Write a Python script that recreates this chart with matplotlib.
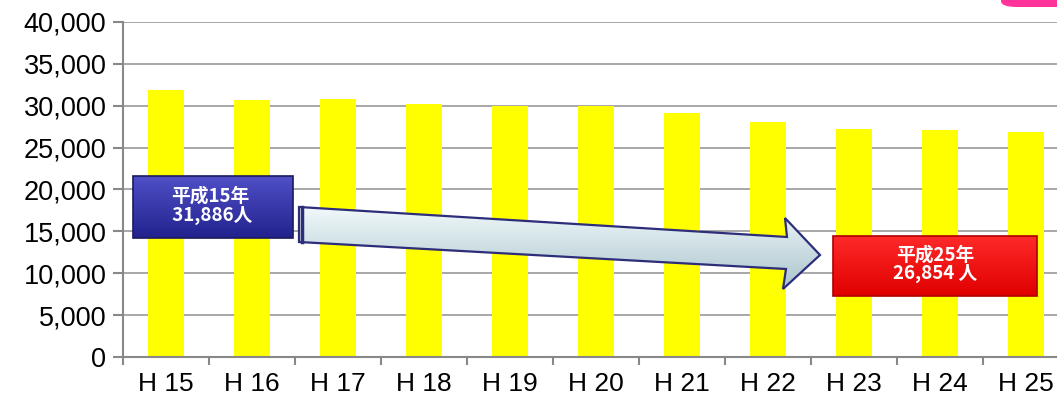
import matplotlib
matplotlib.use("Agg")
import matplotlib.pyplot as plt
import numpy as np
from matplotlib.patches import Polygon, Rectangle, FancyBboxPatch
from matplotlib.ticker import FuncFormatter, MultipleLocator

categories = ["H 15", "H 16", "H 17", "H 18", "H 19", "H 20", "H 21", "H 22", "H 23", "H 24", "H 25"]
values = [31886, 30700, 30750, 30250, 30000, 30000, 29150, 28100, 27250, 27150, 26854]
start_label = "平成15年\n 31,886人"
end_label = "平成25年\n26,854 人"

plt.rcParams['font.family'] = ['Liberation Sans', 'DejaVu Sans']

W, H = 1057, 398
fig = plt.figure(figsize=(W / 100, H / 100), dpi=100)
ax_left, ax_bottom = 123 / W, (H - 357) / H
ax_w, ax_h = 946 / W, 335 / H
ax = fig.add_axes([ax_left, ax_bottom, ax_w, ax_h])

x = np.arange(len(categories))
ax.bar(x, values, width=0.41, color="#ffff00", zorder=2)

ax.set_xlim(-0.5, len(categories) - 0.5)
ax.set_ylim(0, 40000)
ax.yaxis.set_major_locator(MultipleLocator(5000))
ax.yaxis.set_major_formatter(FuncFormatter(lambda v, p: f"{int(v):,}"))
ax.set_xticks(x)
ax.set_xticklabels(categories)
ax.set_xticks(np.arange(-0.5, len(categories), 1), minor=True)
ax.tick_params(axis="x", which="major", length=0, labelsize=19, pad=11)
ax.tick_params(axis="x", which="minor", length=6, width=1.5, color="#888888")
ax.tick_params(axis="y", length=7, width=1.5, color="#888888", labelsize=19.5, pad=5)
ax.grid(axis="y", color="#a0a0a0", linewidth=1.3, zorder=0)
ax.set_axisbelow(True)
for s in ["top", "right"]:
    ax.spines[s].set_visible(False)
for s in ["left", "bottom"]:
    ax.spines[s].set_color("#888888")
    ax.spines[s].set_linewidth(1.5)


def px2data(px, py):
    cx = (px - 123) / 86 - 0.5
    cy = (357 - py) / 335 * 40000
    return cx, cy


def gradient_fill(patch, c_top, c_bot, extent, z):
    ax.add_patch(patch)
    n = 64
    t = np.linspace(0, 1, n)[:, None]
    ct = np.array(matplotlib.colors.to_rgb(c_top))
    cb = np.array(matplotlib.colors.to_rgb(c_bot))
    img = (ct[None, None, :] * (1 - t[..., None]) + cb[None, None, :] * t[..., None])
    img = np.repeat(img, 2, axis=1)
    im = ax.imshow(img, extent=extent, aspect="auto", origin="upper", zorder=z,
                   interpolation="bilinear")
    im.set_clip_path(patch)


# Arrow
arrow_px = [(299, 207), (787, 237), (785, 218), (820, 255), (783, 289), (786, 269), (299, 242)]
arrow_pts = [px2data(*p) for p in arrow_px]
arr = Polygon(arrow_pts, closed=True, facecolor="none", edgecolor="none", zorder=5)
x0, y0 = px2data(299, 205)
x1, y1 = px2data(822, 290)
gradient_fill(arr, "#f4fafc", "#a8c4cc", [x0, x1, y1, y0], 5)
ax.add_patch(Polygon(arrow_pts, closed=True, facecolor="none", edgecolor="#2d2d7a",
                     linewidth=1.6, zorder=6))
tx0, ty0 = px2data(302, 207)
tx1, ty1 = px2data(302, 242)
ax.plot([tx0, tx1], [ty0, ty1], color="#2d2d7a", lw=2.5, zorder=6)

# Blue box
bx0, by0 = px2data(133, 238)
bx1, by1 = px2data(293, 176)
blue = Rectangle((bx0, by0), bx1 - bx0, by1 - by0, facecolor="none", edgecolor="none", zorder=7)
gradient_fill(blue, "#5050c8", "#22228e", [bx0, bx1, by0, by1], 7)
ax.add_patch(Rectangle((bx0, by0), bx1 - bx0, by1 - by0, facecolor="none",
                       edgecolor="#1a1a5e", linewidth=1.2, zorder=8))
cx, cy = px2data(210, 206)
ax.text(cx, cy, start_label, ha="center", va="center", color="white", fontsize=13.5,
        fontweight="bold", family=["Noto Sans CJK JP", "DejaVu Sans"], linespacing=1.0, zorder=9)

# Red box
rx0, ry0 = px2data(833, 296)
rx1, ry1 = px2data(1037, 236)
red = Rectangle((rx0, ry0), rx1 - rx0, ry1 - ry0, facecolor="none", edgecolor="none", zorder=7)
gradient_fill(red, "#ff2a2a", "#e00000", [rx0, rx1, ry0, ry1], 7)
ax.add_patch(Rectangle((rx0, ry0), rx1 - rx0, ry1 - ry0, facecolor="none",
                       edgecolor="#b00000", linewidth=1.2, zorder=8))
cx, cy = px2data(935, 264)
ax.text(cx, cy, end_label, ha="center", va="center", color="white", fontsize=13.5,
        fontweight="bold", family=["Noto Sans CJK JP", "DejaVu Sans"], linespacing=0.95, zorder=9)

ax.set_xlim(-0.5, len(categories) - 0.5)
ax.set_ylim(0, 40000)

# pink tab at top right
fig.patches.append(FancyBboxPatch((1001 / W, 391 / H), 70 / W, 20 / H,
                                  boxstyle="round,pad=0,rounding_size=0.015",
                                  facecolor="#ff3399", edgecolor="none",
                                  transform=fig.transFigure, figure=fig))

fig.savefig("out.png", dpi=100)
